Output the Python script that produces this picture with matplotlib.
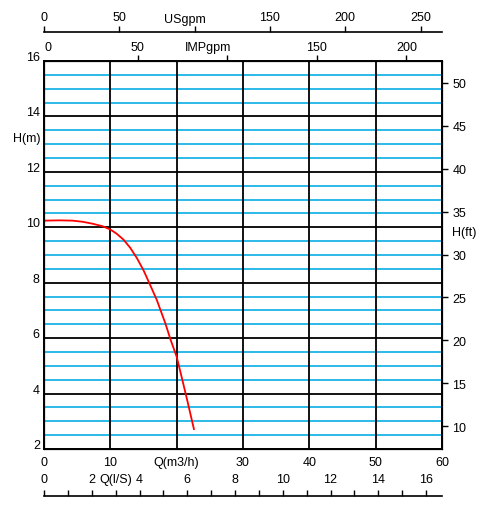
import matplotlib
matplotlib.use("Agg")
import matplotlib.pyplot as plt
import matplotlib.transforms as mtransforms
import numpy as np

plt.rcParams['font.family'] = ['Liberation Sans', 'DejaVu Sans']
plt.rcParams['font.size'] = 9

# pump curve
flow_m3h = [0, 2.3, 4.3, 5.8, 7.3, 8.8, 10, 11, 12, 13, 14, 15, 16, 17, 18.3, 19.1, 20, 20.9, 21.6, 22.6]
head_m = [10.24, 10.25, 10.24, 10.2, 10.13, 10.04, 9.92, 9.76, 9.55, 9.26, 8.89, 8.45, 7.92, 7.38,
          6.53, 5.93, 5.33, 4.45, 3.75, 2.72]

h_ticks = [2, 4, 6, 8, 10, 12, 14, 16]
ft_ticks = [10, 15, 20, 25, 30, 35, 40, 45, 50]
q_ticks = [0, 10, 20, 30, 40, 50, 60]
q_labels = ['0', '10', 'Q(m3/h)', '30', '40', '50', '60']
us_ticks = [0, 50, 100, 150, 200, 250]
us_labels = ['0', '50', '', '150', '200', '250']
imp_ticks = [0, 50, 100, 150, 200]
imp_labels = ['0', '50', '', '150', '200']
ls_ticks = list(range(17))
ls_labels = ['0', '', '2', 'Q(l/S)', '4', '', '6', '', '8', '', '10', '', '12', '', '14', '', '16']

W, H = 491, 506
CYAN = '#1cb4e6'


def fx(px):
    return px / W


def fy(py):
    return 1 - py / H


fig = plt.figure(figsize=(W / 100, H / 100), dpi=100)
ax = fig.add_axes([fx(44), fy(450), fx(442) - fx(44), fy(62) - fy(450)])
ax.set_xlim(0, 60)
ax.set_ylim(2, 16)

# grid: black every 2 m / 10 m3/h, cyan every 0.5 m between
for h in np.arange(2.5, 16, 0.5):
    if h % 2 != 0:
        ax.axhline(h, color=CYAN, lw=1.3, zorder=1)
for h in h_ticks[1:-1]:
    ax.axhline(h, color='black', lw=1.3, zorder=2)
for q in q_ticks[1:-1]:
    ax.axvline(q, color='black', lw=1.3, zorder=2)

ax.plot(flow_m3h, head_m, color='#ff0000', lw=1.3, zorder=3,
        solid_joinstyle='round')

for s in ax.spines.values():
    s.set_linewidth(1.4)

ax.set_yticks(h_ticks)
ax.tick_params(axis='y', length=0, pad=3)
offset = mtransforms.ScaledTranslation(0, 4 / 72, fig.dpi_scale_trans)
for lab in ax.get_yticklabels():
    lab.set_transform(lab.get_transform() + offset)
ax.set_xticks(q_ticks)
ax.set_xticklabels(q_labels)
ax.tick_params(axis='x', length=0, pad=5)
fig.text(fx(27), fy(139), 'H(m)', ha='center', va='center')

# right axis in feet
axr = ax.twinx()
axr.set_ylim(7.35, 52.55)
axr.set_yticks(ft_ticks)
axr.tick_params(axis='y', length=4.5, width=1, pad=3)
fig.text(fx(464), fy(233), 'H(ft)', ha='center', va='center')

# IMPgpm along the top of the plot
axi = ax.twiny()
axi.set_xlim(-2.35, 219.9)
axi.set_xticks(imp_ticks)
axi.set_xticklabels(imp_labels)
axi.tick_params(axis='x', length=4.5, width=1, pad=1.5)
axi.xaxis.get_major_ticks()[0].tick2line.set_visible(False)
fig.text(fx(208), fy(48), 'IMPgpm', ha='center', va='center')

# USgpm scale above
axu = fig.add_axes([fx(44), fy(33), fx(442) - fx(44), 0.0005])
axu.set_xlim(0, 60 * 4.403)
axu.set_ylim(0, 1)
axu.patch.set_visible(False)
for k in ['left', 'right', 'bottom']:
    axu.spines[k].set_visible(False)
axu.spines['top'].set_linewidth(1.2)
axu.set_yticks([])
axu.xaxis.set_ticks_position('top')
axu.set_xticks(us_ticks)
axu.set_xticklabels(us_labels)
axu.tick_params(axis='x', length=4.5, width=1, pad=1.5)
fig.text(fx(185), fy(20), 'USgpm', ha='center', va='center')

# l/s scale below
axl = fig.add_axes([fx(44), fy(497), fx(442) - fx(44), 0.0005])
axl.set_xlim(0, 60 / 3.6)
axl.set_ylim(0, 1)
axl.patch.set_visible(False)
for k in ['left', 'right', 'bottom']:
    axl.spines[k].set_visible(False)
axl.spines['top'].set_linewidth(1.2)
axl.set_yticks([])
axl.xaxis.set_ticks_position('top')
axl.set_xticks(ls_ticks)
axl.set_xticklabels(ls_labels)
axl.tick_params(axis='x', length=4.5, width=1, pad=3.5)

fig.savefig('out.png', dpi=100)
